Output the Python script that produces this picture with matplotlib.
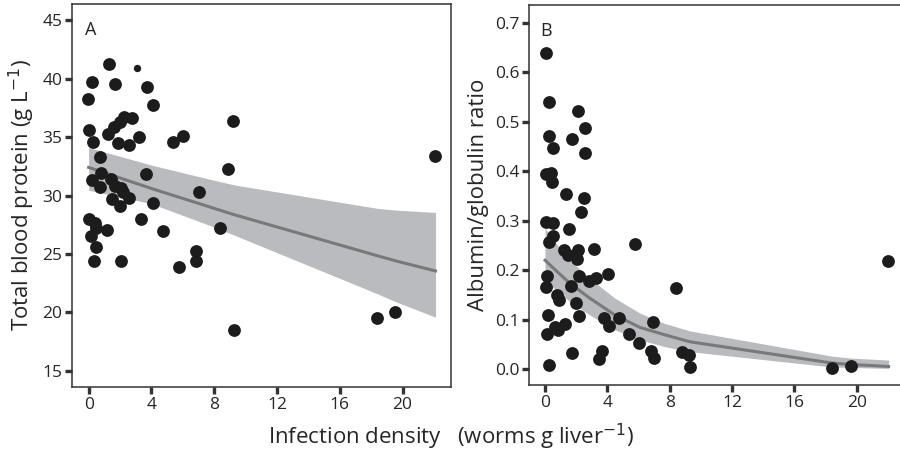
import matplotlib
matplotlib.use("Agg")
import matplotlib.pyplot as plt

plt.rcParams["font.family"] = ["Open Sans", "DejaVu Sans"]

# Panel A: total blood protein (g/L) vs infection density
a_x = [1.30, 0.23, 1.66, 3.74, -0.02, 4.11, 2.26, 2.79, 2.02, 1.60, 9.21, 0.0,
       1.23, 3.19, 6.02, 5.38, 0.28, 1.87, 2.55, 0.74, 22.09, 8.89, 3.64, 0.81,
       0.21, 1.45, 0.70, 1.66, 2.09, 2.19, 7.04, 1.51, 2.55, 4.11, 1.98, 0.0,
       0.43, 3.36, 0.49, 1.19, 4.74, 0.17, 8.40, 0.45, 6.87, 0.34, 2.09, 6.81,
       5.77, 18.36, 19.53, 9.28]
a_y = [41.24, 39.73, 39.53, 39.3, 38.22, 37.74, 36.74, 36.65, 36.31, 35.88, 36.4, 35.6,
       35.26, 35.03, 35.09, 34.54, 34.6, 34.52, 34.29, 33.32, 33.4, 32.27, 31.81, 31.95,
       31.32, 31.38, 30.7, 30.84, 30.67, 30.33, 30.27, 29.7, 29.81, 29.39, 29.13, 27.96,
       27.68, 27.96, 27.2, 27.05, 27.0, 26.54, 27.2, 25.57, 25.28, 24.4, 24.37, 24.43,
       23.92, 19.56, 20.07, 18.5]
a_small_x = [3.09]
a_small_y = [40.9]

a_fit_x = [0, 4, 8, 9.3, 18.4, 19.6, 22.1]
a_fit = [32.4, 30.6, 28.9, 28.35, 24.85, 24.4, 23.55]
a_lo = [30.45, 29.3, 27.3, 26.6, 21.6, 20.9, 19.6]
a_hi = [34.1, 32.6, 31.3, 30.9, 28.9, 28.75, 28.55]

# Panel B: albumin/globulin ratio vs infection density
b_x = [0.06, 0.24, 2.14, 2.59, 0.28, 1.71, 0.53, 2.59, 0.04, 0.36, 0.43, 1.35,
       2.50, 2.31, 0.04, 0.53, 1.56, 0.53, 0.28, 5.78, 1.24, 2.14, 3.14, 1.50,
       2.03, 22.03, 4.06, 0.15, 2.18, 3.27, 2.80, 0.04, 1.67, 8.41, 0.79, 0.90,
       1.99, 0.21, 2.18, 3.81, 4.77, 6.91, 1.28, 0.64, 0.86, 4.09, 0.15, 5.41,
       6.05, 8.81, 6.82, 3.68, 1.71, 3.44, 7.02, 9.24, 0.24, 9.30, 18.44, 19.64]
b_y = [0.640, 0.540, 0.522, 0.487, 0.471, 0.466, 0.447, 0.436, 0.394, 0.397, 0.379, 0.353,
       0.345, 0.317, 0.297, 0.296, 0.283, 0.268, 0.257, 0.253, 0.241, 0.241, 0.242, 0.230,
       0.222, 0.219, 0.192, 0.188, 0.188, 0.185, 0.177, 0.165, 0.168, 0.163, 0.150, 0.139,
       0.134, 0.109, 0.107, 0.104, 0.104, 0.094, 0.091, 0.084, 0.079, 0.086, 0.070, 0.070,
       0.053, 0.035, 0.037, 0.036, 0.033, 0.020, 0.022, 0.028, 0.008, 0.003, 0.001, 0.006]

b_fit_x = [0, 0.5, 1.6, 2.88, 4.49, 6.09, 7.69, 9.29, 18.4, 19.6, 22.05]
b_fit = [0.220, 0.205, 0.173, 0.143, 0.109, 0.084, 0.069, 0.055, 0.012, 0.009, 0.005]
b_lo = [0.178, 0.165, 0.136, 0.109, 0.079, 0.059, 0.045, 0.035, 0.004, 0.003, 0.001]
b_hi = [0.285, 0.262, 0.220, 0.183, 0.143, 0.113, 0.092, 0.077, 0.026, 0.022, 0.018]

dot = "#1c1c1c"
band = "#b9bbbe"
fitc = "#77797b"
frame = "#333333"


def style(ax):
    for s in ax.spines.values():
        s.set_color(frame)
        s.set_linewidth(1.1)
    ax.tick_params(direction="out", length=5, width=2.4, color=frame,
                   labelsize=12.5, labelcolor="#262626", pad=2)


fig = plt.figure(figsize=(9, 4.53), dpi=100)

ax1 = fig.add_axes([72 / 900, 66 / 453, 379 / 900, 383 / 453])
ax1.fill_between(a_fit_x, a_lo, a_hi, color=band, lw=0, zorder=1)
ax1.plot(a_fit_x, a_fit, color=fitc, lw=2.2, zorder=2)
ax1.scatter(a_x, a_y, s=85, color=dot, lw=0, zorder=3)
ax1.scatter(a_small_x, a_small_y, s=28, color=dot, lw=0, zorder=3)
ax1.set_xlim(-1.06, 23.09)
ax1.set_ylim(13.63, 46.37)
ax1.set_xticks([0, 4, 8, 12, 16, 20])
ax1.set_yticks([15, 20, 25, 30, 35, 40, 45])
ax1.set_ylabel("Total blood protein (g L$^{-1}$)", fontsize=16, color="#262626", labelpad=4)
ax1.text(0.035, 0.955, "A", transform=ax1.transAxes, fontsize=13, va="top", color="#262626")
style(ax1)

ax2 = fig.add_axes([529 / 900, 68 / 453, 376 / 900, 380 / 453])
ax2.fill_between(b_fit_x, b_lo, b_hi, color=band, lw=0, zorder=1)
ax2.plot(b_fit_x, b_fit, color=fitc, lw=2.2, zorder=2)
ax2.scatter(b_x, b_y, s=85, color=dot, lw=0, zorder=3)
ax2.set_xlim(-1.03, 23.1)
ax2.set_ylim(-0.0325, 0.7364)
ax2.set_xticks([0, 4, 8, 12, 16, 20])
ax2.set_yticks([0.0, 0.1, 0.2, 0.3, 0.4, 0.5, 0.6, 0.7])
ax2.set_yticklabels(["0.0", "0.1", "0.2", "0.3", "0.4", "0.5", "0.6", "0.7"])
ax2.set_ylabel("Albumin/globulin ratio", fontsize=16, color="#262626", labelpad=4)
ax2.text(0.03, 0.955, "B", transform=ax2.transAxes, fontsize=13, va="top", color="#262626")
style(ax2)

fig.text(451 / 900, 1 - 437 / 453, "Infection density   (worms g liver$^{-1}$)",
         ha="center", va="center", fontsize=16, color="#262626")

fig.savefig("out.png", dpi=100)
